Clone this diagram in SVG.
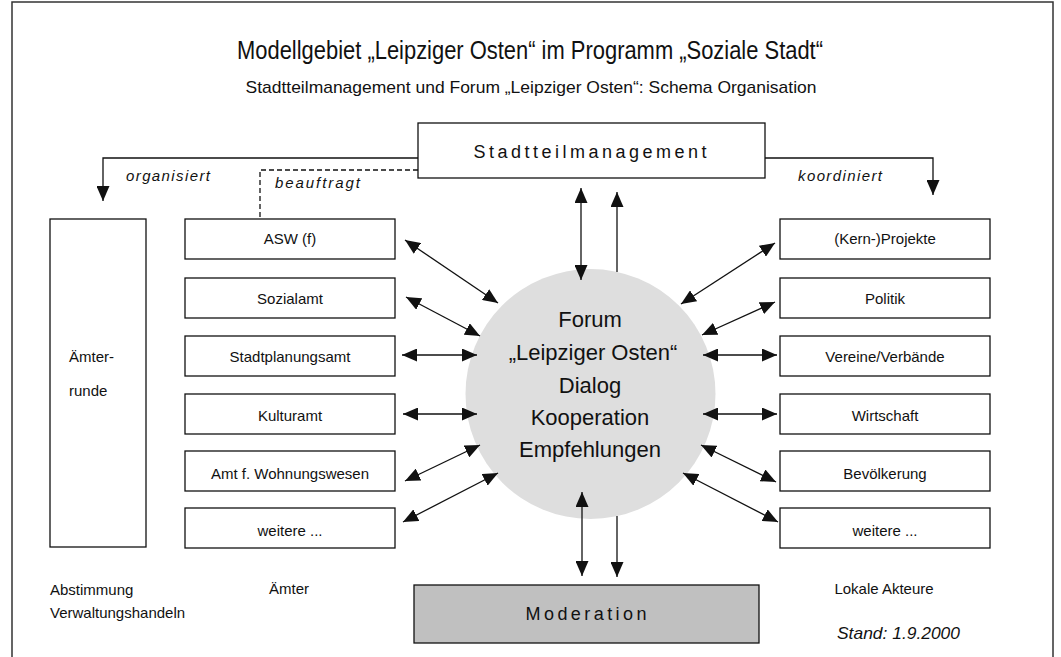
<svg xmlns="http://www.w3.org/2000/svg" width="1061" height="657" viewBox="0 0 1061 657">
<style>
text{font-family:"Liberation Sans",Arial,sans-serif;fill:#111}
.box{fill:#fff;stroke:#111;stroke-width:1.3}
.lbl{font-size:15px;text-anchor:middle}
.it{font-size:15px;font-style:italic}
.ln{fill:none;stroke:#111;stroke-width:1.3}
.dbl{marker-start:url(#ah);marker-end:url(#ah)}
.one{marker-end:url(#ah)}
</style>
<defs>
<marker id="ah" viewBox="0 0 15 13" refX="15" refY="6.5" markerWidth="15" markerHeight="13" markerUnits="userSpaceOnUse" orient="auto-start-reverse">
<path d="M0,0 L15,6.5 L0,13 Z" fill="#111"/>
</marker>
</defs>
<rect x="0" y="0" width="1061" height="657" fill="#fff"/>
<rect x="12" y="2" width="1041" height="680" fill="none" stroke="#333" stroke-width="1.5"/>
<g id="title">
<text x="530" y="59" font-size="25" text-anchor="middle" textLength="586" lengthAdjust="spacingAndGlyphs">Modellgebiet „Leipziger Osten“ im Programm „Soziale Stadt“</text>
<text x="531" y="93" font-size="17" text-anchor="middle" textLength="571" lengthAdjust="spacingAndGlyphs">Stadtteilmanagement und Forum „Leipziger Osten“: Schema Organisation</text>
</g>
<g id="stadtteilmanagement">
<rect class="box" x="418" y="123" width="347" height="55"/>
<text x="590" y="158" font-size="18" text-anchor="middle" textLength="233" lengthAdjust="spacing">Stadtteilmanagement</text>
</g>
<g id="forum">
<circle cx="590.5" cy="394" r="125" fill="#dedede"/>
<text x="590" y="327" font-size="22" text-anchor="middle">Forum</text>
<text x="593" y="360" font-size="22" text-anchor="middle">„Leipziger Osten“</text>
<text x="590" y="393" font-size="22" text-anchor="middle">Dialog</text>
<text x="590" y="425" font-size="22" text-anchor="middle">Kooperation</text>
<text x="590" y="457" font-size="22" text-anchor="middle">Empfehlungen</text>
</g>
<g id="moderation">
<rect x="414" y="585" width="345" height="58" fill="#c0c0c0" stroke="#111" stroke-width="1.3"/>
<text x="586" y="620" font-size="18" text-anchor="middle" textLength="121" lengthAdjust="spacing">Moderation</text>
</g>
<g id="aemterrunde">
<rect class="box" x="50" y="219" width="96" height="328"/>
<text x="69" y="362" font-size="15">Ämter-</text>
<text x="69" y="396" font-size="15">runde</text>
</g>
<g id="asw"><rect class="box" x="185" y="219" width="210" height="40"/><text class="lbl" x="290" y="244">ASW (f)</text></g>
<g id="sozialamt"><rect class="box" x="185" y="278" width="210" height="40"/><text class="lbl" x="290" y="304">Sozialamt</text></g>
<g id="stadtplanungsamt"><rect class="box" x="185" y="336" width="210" height="40"/><text class="lbl" x="290" y="362">Stadtplanungsamt</text></g>
<g id="kulturamt"><rect class="box" x="185" y="394" width="210" height="40"/><text class="lbl" x="290" y="421">Kulturamt</text></g>
<g id="wohnungswesen"><rect class="box" x="185" y="451" width="210" height="40"/><text class="lbl" x="290" y="479">Amt f. Wohnungswesen</text></g>
<g id="weitere-aemter"><rect class="box" x="185" y="508" width="210" height="40"/><text class="lbl" x="290" y="536">weitere ...</text></g>
<g id="kernprojekte"><rect class="box" x="780" y="219" width="210" height="40"/><text class="lbl" x="885" y="244">(Kern-)Projekte</text></g>
<g id="politik"><rect class="box" x="780" y="278" width="210" height="40"/><text class="lbl" x="885" y="304">Politik</text></g>
<g id="vereine"><rect class="box" x="780" y="336" width="210" height="40"/><text class="lbl" x="885" y="362">Vereine/Verbände</text></g>
<g id="wirtschaft"><rect class="box" x="780" y="394" width="210" height="40"/><text class="lbl" x="885" y="421">Wirtschaft</text></g>
<g id="bevoelkerung"><rect class="box" x="780" y="451" width="210" height="40"/><text class="lbl" x="885" y="479">Bevölkerung</text></g>
<g id="weitere-akteure"><rect class="box" x="780" y="508" width="210" height="40"/><text class="lbl" x="885" y="536">weitere ...</text></g>
<g id="captions">
<text x="50" y="595" font-size="15">Abstimmung</text>
<text x="50" y="618" font-size="15">Verwaltungshandeln</text>
<text x="289" y="594" font-size="15" text-anchor="middle">Ämter</text>
<text x="884" y="594" font-size="15" text-anchor="middle">Lokale Akteure</text>
<text x="837" y="639" font-size="17" font-style="italic" textLength="123" lengthAdjust="spacingAndGlyphs">Stand: 1.9.2000</text>
</g>
<g id="connectors">
<path class="ln one" d="M418,158 H103 V201"/>
<path class="ln one" d="M765,158 H933 V195"/>
<path class="ln" d="M418,170 H260 V219" stroke-dasharray="5,3"/>
<line class="ln dbl" x1="581" y1="188" x2="581" y2="280"/>
<line class="ln one" x1="617" y1="272" x2="617" y2="192"/>
<line class="ln dbl" x1="582" y1="492" x2="582" y2="576"/>
<line class="ln one" x1="617" y1="516" x2="617" y2="577"/>
<line class="ln dbl" x1="405" y1="240" x2="498" y2="303"/>
<line class="ln dbl" x1="406" y1="297" x2="480" y2="336"/>
<line class="ln dbl" x1="402" y1="355" x2="477" y2="355"/>
<line class="ln dbl" x1="403" y1="414" x2="477" y2="414"/>
<line class="ln dbl" x1="405" y1="481" x2="480" y2="445"/>
<line class="ln dbl" x1="403" y1="522" x2="498" y2="473"/>
<line class="ln dbl" x1="681" y1="304" x2="775" y2="243"/>
<line class="ln dbl" x1="702" y1="335" x2="775" y2="302"/>
<line class="ln dbl" x1="703" y1="355" x2="777" y2="355"/>
<line class="ln dbl" x1="703" y1="414" x2="777" y2="414"/>
<line class="ln dbl" x1="701" y1="445" x2="776" y2="482"/>
<line class="ln dbl" x1="683" y1="473" x2="778" y2="522"/>
<text class="it" x="126" y="181" textLength="84" lengthAdjust="spacing">organisiert</text>
<text class="it" x="275" y="188" textLength="85" lengthAdjust="spacing">beauftragt</text>
<text class="it" x="798" y="181" textLength="84" lengthAdjust="spacing">koordiniert</text>
</g>
</svg>
